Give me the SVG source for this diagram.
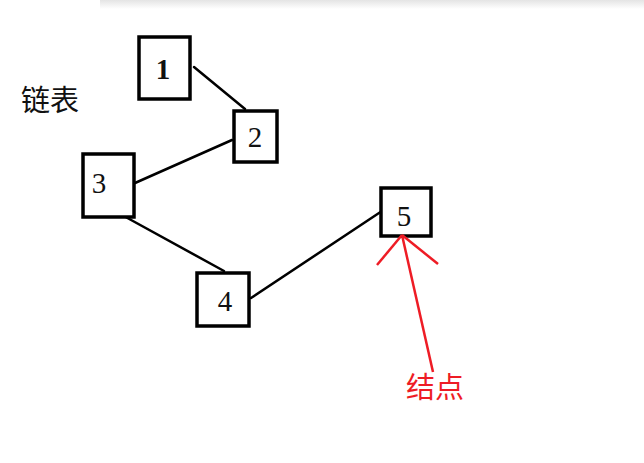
<svg xmlns="http://www.w3.org/2000/svg" width="644" height="463" viewBox="0 0 644 463">
<style>
.box{fill:#fff;stroke:#000;stroke-width:3.5}
.num{font-family:"Liberation Serif",serif;font-size:29px;text-anchor:middle;fill:#111}
.link{stroke:#000;stroke-width:2.5;fill:none;stroke-linecap:round}
.red{stroke:#ee1c25;stroke-width:2.5;fill:none}
.cjk{font-family:"Noto Sans CJK SC",sans-serif;font-size:29px}
</style>
<defs>
<linearGradient id="sh" x1="0" y1="0" x2="0" y2="1">
<stop offset="0" stop-color="#e4e4e4"/>
<stop offset="1" stop-color="#ffffff"/>
</linearGradient>
</defs>
<rect width="644" height="463" fill="#fff"/>
<rect x="100" y="0" width="544" height="9" fill="url(#sh)"/>
<g id="connectors">
<line class="link" x1="194" y1="67" x2="245" y2="109"/>
<line class="link" x1="232" y1="140" x2="135" y2="183"/>
<line class="link" x1="122" y1="215" x2="224" y2="271"/>
<line class="link" x1="251" y1="298" x2="382" y2="211"/>
</g>
<g id="node1"><rect class="box" x="139" y="37" width="51" height="62"/><text class="num" x="163" y="79" font-weight="bold">1</text></g>
<g id="node2"><rect class="box" x="234" y="111" width="43" height="51"/><text class="num" x="255" y="147">2</text></g>
<g id="node3"><rect class="box" x="83" y="154" width="51" height="63"/><text class="num" x="99" y="193">3</text></g>
<g id="node4"><rect class="box" x="197" y="273" width="52" height="53"/><text class="num" x="225" y="311">4</text></g>
<g id="node5"><rect class="box" x="381" y="188" width="50" height="48"/><text class="num" x="404" y="226">5</text></g>
<text id="title" class="cjk" x="21" y="111" fill="#111">链表</text>
<g id="pointer">
<line class="red" x1="433" y1="372" x2="402" y2="235"/>
<line class="red" x1="402" y1="235" x2="377" y2="265"/>
<line class="red" x1="402" y1="235" x2="438" y2="264"/>
<text class="cjk" x="406" y="398" fill="#ee1c25">结点</text>
</g>
</svg>
